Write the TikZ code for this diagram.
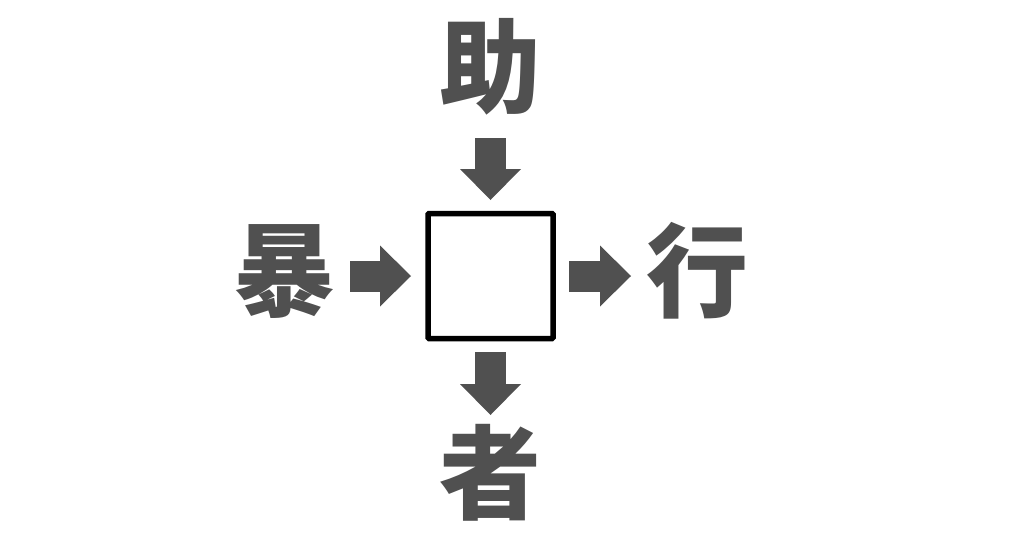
\documentclass[tikz,border=0pt]{standalone}
\usepackage{fontspec}
\newfontfamily\cjk{Noto Sans CJK JP}
\usepackage{xcolor}
\usetikzlibrary{arrows.meta}
\definecolor{inkgray}{HTML}{505050}

\begin{document}
\begin{tikzpicture}[x=1pt,y=-1pt]
  \tikzstyle{glyph}=[inner sep=0pt,text=inkgray,font=\cjk\bfseries\fontsize{102}{102}\selectfont]
  \tikzstyle{blank}=[draw=black,line width=5.5pt,rounded corners=1pt,minimum size=125pt,inner sep=0pt,fill=white]
  \tikzstyle{flow}=[draw=inkgray,line width=31pt,-{Triangle[length=31pt,width=61pt,line width=0pt]}]
  \useasboundingbox (0,0) rectangle (1024,538);
  % centre square
  \node[blank] (box) at (490.5,276) {};
  % the four kanji
  \node[glyph] (zhu)  at (490.5,67)  {助};
  \node[glyph] (bao)  at (284,272)   {暴};
  \node[glyph] (xing) at (697,271)   {行};
  \node[glyph] (zhe)  at (490.5,473) {者};
  % arrows
  \draw[flow,shorten <=71pt,shorten >=10.75pt] (zhu.center) -- (box.north);
  \draw[flow,shorten <=66pt,shorten >=14.25pt] (bao |- box.west) -- (box.west);
  \draw[flow,shorten <=13.25pt,shorten >=66pt] (box.east) -- (xing |- box.east);
  \draw[flow,shorten <=10.75pt,shorten >=58pt] (box.south) -- (zhe.center);
\end{tikzpicture}
\end{document}
